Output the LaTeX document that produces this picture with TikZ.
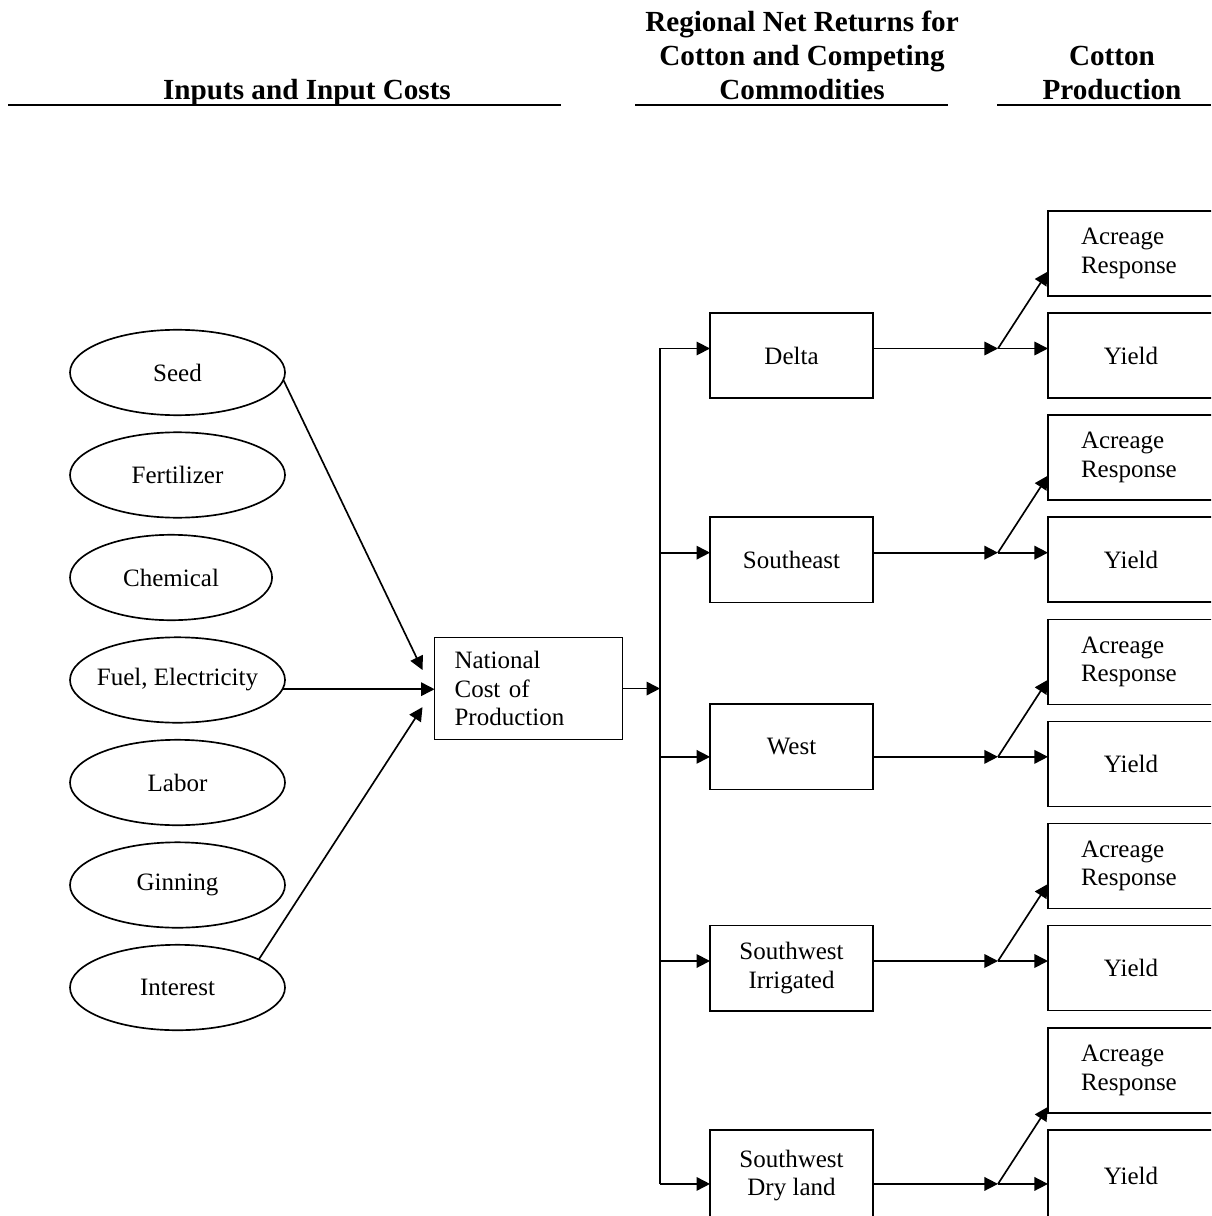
\documentclass[tikz,border=0pt]{standalone}
\usepackage{fontspec}
\setmainfont{Liberation Serif}
\usepackage{tikz}
\usetikzlibrary{calc,positioning,arrows.meta,shapes.geometric}
\tikzset{
    >={Triangle[length=6.5pt,width=6.5pt]},
    inputcost/.style={
        ellipse,
        draw=black, line width=0.8pt,
        minimum width=103.2pt,
        minimum height=41pt,
        inner xsep=-6pt, inner ysep=0pt,
        outer sep=0pt,
        font=\fontsize{12pt}{13.8pt}\selectfont
    },
    costbox/.style={
        rectangle,
        draw=black, line width=0.8pt,
        minimum width=90.2pt,
        minimum height=49pt,
        text width=71pt,
        inner xsep=0pt,
        outer sep=0pt,
        align=left,
        font=\fontsize{12pt}{13.8pt}\selectfont
    },
    region/.style={
        rectangle,
        draw=black, line width=0.8pt,
        minimum width=78.2pt,
        minimum height=41pt,
        inner sep=0pt,
        outer sep=0pt,
        align=center,
        font=\fontsize{12pt}{13.8pt}\selectfont
    },
    acreage/.style={
        rectangle,
        draw=black, line width=0.8pt,
        minimum width=79.7pt,
        minimum height=40.8pt,
        text width=48pt,
        inner xsep=0pt,
        outer sep=0pt,
        align=left,
        font=\fontsize{12pt}{13.8pt}\selectfont
    },
    yieldbox/.style={
        rectangle,
        draw=black, line width=0.8pt,
        minimum width=79.7pt,
        minimum height=40.8pt,
        inner sep=0pt,
        outer sep=0pt,
        align=center,
        font=\fontsize{12pt}{13.8pt}\selectfont
    },
    line/.style={draw, line width=0.8pt, ->},
    bar/.style={draw, line width=0.8pt},
    rule/.style={draw, line width=1pt}
}

\begin{document}
\begin{tikzpicture}[
            x=0.48pt, y=-0.48pt,
            heading/.style={
                inner sep=0pt,
                align=center,
                font=\fontsize{14pt}{16.3pt}\selectfont\bfseries
            },
            node distance=8.2pt]
    \useasboundingbox (0,0) rectangle (1211,1216);
    \fill[white] (0,0) rectangle (1211,1216);
    \clip (0,0) rectangle (1211,1216);

    % column headings
    \node[heading, anchor=base] (hinputs) at (307,100) {Inputs and Input Costs};
    \node[heading, anchor=south] (hreturns) at (802,100) {Regional Net Returns for\\Cotton and Competing\\Commodities};
    \node[heading, anchor=south] (hcotton) at (1112,100) {Cotton\\Production};
    \draw[rule] (8,105) -- (561,105);
    \draw[rule] (635,105) -- (948,105);
    \draw[rule] (997,105) -- (1211,105);

    % inputs
    \node[inputcost] (seed) at (177.5,372.5) {Seed};
    \node[inputcost, below=of seed] (fertilizer) {Fertilizer};
    \node[inputcost, below=of fertilizer, minimum width=97pt, xshift=-3.1pt] (chemical) {Chemical};
    \node[inputcost, below=of chemical, xshift=3.1pt] (fuel) {Fuel, Electricity};
    \node[inputcost, below=of fuel] (labor) {Labor};
    \node[inputcost, below=of labor] (ginning) {Ginning};
    \node[inputcost, below=of ginning] (interest) {Interest};

    \node[costbox, right=71.8pt of fuel, yshift=-4.1pt] (ncp) {National\\Cost of\\Production};

    % cotton production column
    \node[acreage] (A1) at (1131,253.5) {Acreage\\Response};
    \node[yieldbox, below=of A1] (Y1) {Yield};
    \node[acreage, below=of Y1] (A2) {Acreage\\Response};
    \node[yieldbox, below=of A2] (Y2) {Yield};
    \node[acreage, below=of Y2] (A3) {Acreage\\Response};
    \node[yieldbox, below=of A3] (Y3) {Yield};
    \node[acreage, below=of Y3] (A4) {Acreage\\Response};
    \node[yieldbox, below=of A4] (Y4) {Yield};
    \node[acreage, below=of Y4] (A5) {Acreage\\Response};
    \node[yieldbox, below=of A5, minimum height=44pt] (Y5) {Yield};

    % regions
    \node[region, left=84pt of Y1] (R1) {Delta};
    \node[region, left=84pt of Y2] (R2) {Southeast};
    \node[region, left=84pt of Y3, yshift=8.2pt] (R3) {West};
    \node[region, left=84pt of Y4] (R4) {Southwest\\Irrigated};
    \node[region, left=84pt of Y5, minimum height=44pt] (R5) {Southwest\\Dry land};

    % branch points and arrow ends
    \coordinate (b1) at ($(Y1.west)+(-24pt,3.4pt)$);
    \coordinate (b2) at ($(Y2.west)+(-24pt,3.4pt)$);
    \coordinate (b3) at ($(Y3.west)+(-24pt,3.4pt)$);
    \coordinate (b4) at ($(Y4.west)+(-24pt,3.4pt)$);
    \coordinate (b5) at ($(Y5.west)+(-24pt,-4pt)$);
    \coordinate (a1) at ($(b1 -| A1.west)+(0,37pt)$);
    \coordinate (a2) at ($(b2 -| A2.west)+(0,37pt)$);
    \coordinate (a3) at ($(b3 -| A3.west)+(0,37pt)$);
    \coordinate (a4) at ($(b4 -| A4.west)+(0,37pt)$);
    \coordinate (a5) at ($(b5 -| A5.west)+(0,37pt)$);
    \coordinate (bus) at ($(R1.west)+(-24pt,0)$);
    \coordinate (in1) at ($(ncp.west)+(-5.8pt,8.9pt)$);
    \coordinate (in3) at ($(ncp.west)+(-5.8pt,-8.9pt)$);

    % inputs into national cost
    \draw[line] (seed.-4) -- (in1);
    \draw[line] (fuel.-5) -- (fuel.-5 -| ncp.west);
    \draw[line] (interest.19) -- (in3);

    % national cost to regions
    \draw[line] (ncp.east) -- (ncp.east -| bus);
    \draw[bar] (bus |- b1) -- (bus |- b5);
    \draw[line] (bus |- b1) -- (b1 -| R1.west);
    \draw[line] (bus |- b2) -- (b2 -| R2.west);
    \draw[line] (bus |- b3) -- (b3 -| R3.west);
    \draw[line] (bus |- b4) -- (b4 -| R4.west);
    \draw[line] (bus |- b5) -- (b5 -| R5.west);

    % regions to acreage and yield
    \draw[line] (b1 -| R1.east) -- (b1);
    \draw[line] (b1) -- (b1 -| Y1.west);
    \draw[line] (b1) -- (a1);
    \draw[line] (b2 -| R2.east) -- (b2);
    \draw[line] (b2) -- (b2 -| Y2.west);
    \draw[line] (b2) -- (a2);
    \draw[line] (b3 -| R3.east) -- (b3);
    \draw[line] (b3) -- (b3 -| Y3.west);
    \draw[line] (b3) -- (a3);
    \draw[line] (b4 -| R4.east) -- (b4);
    \draw[line] (b4) -- (b4 -| Y4.west);
    \draw[line] (b4) -- (a4);
    \draw[line] (b5 -| R5.east) -- (b5);
    \draw[line] (b5) -- (b5 -| Y5.west);
    \draw[line] (b5) -- (a5);
\end{tikzpicture}
\end{document}
